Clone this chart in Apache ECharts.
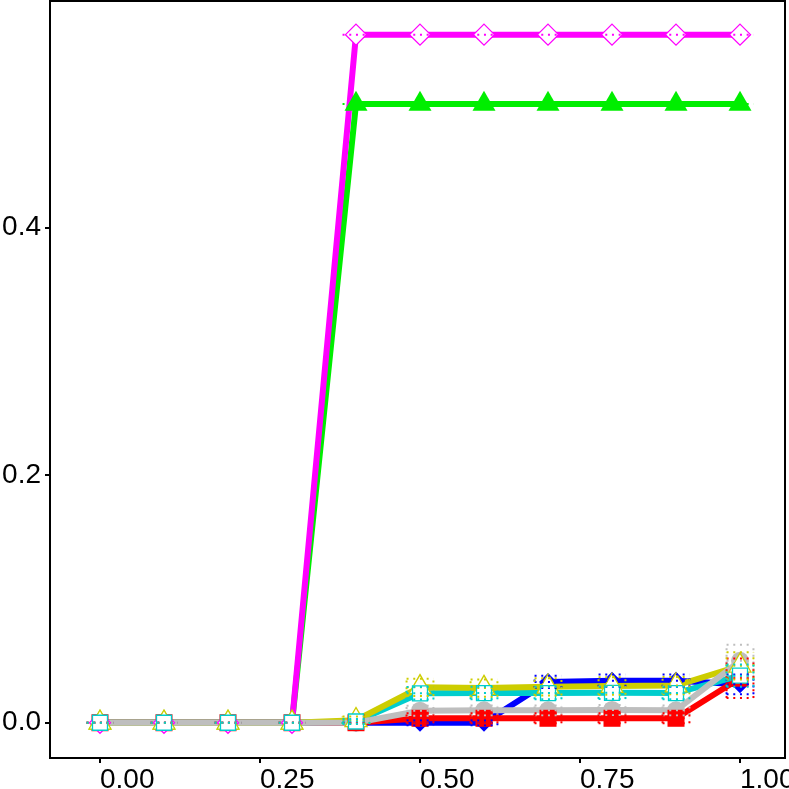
<!DOCTYPE html>
<html><head><meta charset="utf-8">
<script src="https://cdn.jsdelivr.net/npm/echarts@6/dist/echarts.min.js"></script>
<style>html,body{margin:0;padding:0;background:#fff}#c{width:789px;height:789px}</style>
</head><body><div id="c"></div>
<script>
// ---- data ----
const xValues = [0, 0.1, 0.2, 0.3, 0.4, 0.5, 0.6, 0.7, 0.8, 0.9, 1.0];
const xTicks = [0, 0.25, 0.5, 0.75, 1.0];
const yTicks = [0, 0.2, 0.4];

const magentaY      = [0, 0, 0, 0, 0.556, 0.556, 0.556, 0.556, 0.556, 0.556, 0.556];
const magentaSpread = [0, 0, 0, 0, 0, 0, 0, 0, 0, 0, 0];
const greenY        = [0, 0, 0, 0, 0.5, 0.5, 0.5, 0.5, 0.5, 0.5, 0.5];
const greenSpread   = [0, 0, 0, 0, 0, 0, 0, 0, 0, 0, 0];
const blueY         = [0, 0, 0, 0, 0, 0, 0, 0.033, 0.034, 0.034, 0.031];
const blueSpread    = [0, 0, 0, 0, 0, 0.002, 0.002, 0.005, 0.005, 0.005, 0.008];
const yellowY       = [0, 0, 0, 0, 0.002, 0.0286, 0.028, 0.029, 0.0297, 0.030, 0.046];
const yellowSpread  = [0, 0, 0, 0, 0.003, 0.007, 0.007, 0.007, 0.007, 0.007, 0.011];
const cyanY         = [0, 0, 0, 0, 0.001, 0.0238, 0.024, 0.024, 0.0242, 0.024, 0.038];
const cyanSpread    = [0, 0, 0, 0, 0.002, 0.005, 0.005, 0.005, 0.005, 0.005, 0.009];
const grayY         = [0, 0, 0, 0, 0, 0.0097, 0.010, 0.010, 0.0103, 0.010, 0.050];
const graySpread    = [0, 0, 0, 0, 0, 0.004, 0.004, 0.004, 0.004, 0.004, 0.013];
const redY          = [0, 0, 0, 0, 0, 0.0036, 0.0036, 0.0036, 0.0036, 0.0036, 0.036];
const redSpread     = [0, 0, 0, 0, 0, 0.004, 0.004, 0.004, 0.004, 0.004, 0.016];

// ---- styles ----
const S = {
  magenta: {y: magentaY, s: magentaSpread, color: '#FF00FF', symbol: 'diamond', size: [21, 21], open: true, off: [0, 0]},
  green:   {y: greenY,   s: greenSpread,   color: '#00EE00', symbol: 'triangle', size: [23, 20], open: false, off: [0, -3.3]},
  blue:    {y: blueY,    s: blueSpread,    color: '#0000FF', symbol: 'diamond', size: [18, 18], open: false, off: [0, 0]},
  yellow:  {y: yellowY,  s: yellowSpread,  color: '#CDCD00', symbol: 'triangle', size: [22, 19], open: true, off: [0, -3.2]},
  cyan:    {y: cyanY,    s: cyanSpread,    color: '#00CDCD', symbol: 'rect', size: [15, 15], open: true, off: [0, 0]},
  gray:    {y: grayY,    s: graySpread,    color: '#BEBEBE', symbol: 'circle', size: [18, 18], open: false, off: [0, 0]},
  red:     {y: redY,     s: redSpread,     color: '#FF0000', symbol: 'rect', size: [17, 17], open: false, off: [0, 0]}
};
const lineOrder  = ['blue', 'green', 'magenta', 'red', 'cyan', 'yellow', 'gray'];
const pointOrder = ['green', 'blue', 'gray', 'red', 'magenta', 'yellow', 'cyan'];
const barHalf = 0.021;

const pairs = k => xValues.map((x, i) => [x, S[k].y[i]]);
const triples = k => xValues.map((x, i) => [x, S[k].y[i], S[k].s[i]]);

function crossbar(color) {
  return function (params, api) {
    const x = api.value(0), y = api.value(1), s = api.value(2);
    const st = {stroke: color, lineWidth: 2, lineDash: [2, 4.7], fill: null};
    const seg = (a, b) => ({type: 'line', shape: {x1: a[0], y1: a[1], x2: b[0], y2: b[1]}, style: st});
    const c = (u, v) => api.coord([u, v]);
    const ch = [seg(c(x - barHalf, y), c(x + barHalf, y))];
    if (s > 0) {
      ch.push(seg(c(x - barHalf, y + s), c(x + barHalf, y + s)));
      ch.push(seg(c(x - barHalf, y - s), c(x + barHalf, y - s)));
      ch.push(seg(c(x - barHalf, y - s), c(x - barHalf, y + s)));
      ch.push(seg(c(x + barHalf, y - s), c(x + barHalf, y + s)));
    }
    return {type: 'group', children: ch};
  };
}

const series = [];
lineOrder.forEach(k => series.push({
  type: 'line', data: pairs(k), showSymbol: false, silent: true, z: 2,
  lineStyle: {color: S[k].color, width: 6, cap: 'butt', join: 'miter'}
}));
pointOrder.forEach(k => series.push({
  type: 'scatter', data: pairs(k), symbol: S[k].symbol, symbolSize: S[k].size,
  symbolOffset: S[k].off, silent: true, z: 3,
  itemStyle: {color: S[k].open ? '#FFFFFF' : S[k].color, borderColor: S[k].color,
              borderWidth: S[k].open ? 1.3 : 0, opacity: 1}
}));
pointOrder.forEach(k => series.push({
  type: 'custom', data: triples(k), renderItem: crossbar(S[k].color), silent: true, z: 4,
  encode: {x: 0, y: 1}
}));

const font = {fontFamily: 'Liberation Sans', fontSize: 28, color: '#000'};
const chart = echarts.init(document.getElementById('c'), null, {renderer: 'canvas'});
chart.setOption({
  animation: false,
  backgroundColor: '#fff',
  grid: {left: 50, right: 4, top: 1, bottom: 31, show: true, borderColor: '#000', borderWidth: 2,
         backgroundColor: 'transparent', containLabel: false, outerBoundsMode: 'none'},
  xAxis: {
    type: 'value', min: -0.0781, max: 1.0703,
    axisLine: {show: false, onZero: false}, splitLine: {show: false},
    axisTick: {show: true, length: 5, lineStyle: {color: '#000', width: 2}, customValues: xTicks},
    axisLabel: Object.assign({customValues: xTicks, align: 'left', margin: 8,
      formatter: v => v.toFixed(2)}, font)
  },
  yAxis: {
    type: 'value', min: -0.0285, max: 0.5832,
    axisLine: {show: false, onZero: false}, splitLine: {show: false},
    axisTick: {show: true, length: 5, lineStyle: {color: '#000', width: 2}, customValues: yTicks},
    axisLabel: Object.assign({customValues: yTicks, margin: 9,
      formatter: v => v.toFixed(1)}, font)
  },
  series: series
});
</script>
</body></html>
